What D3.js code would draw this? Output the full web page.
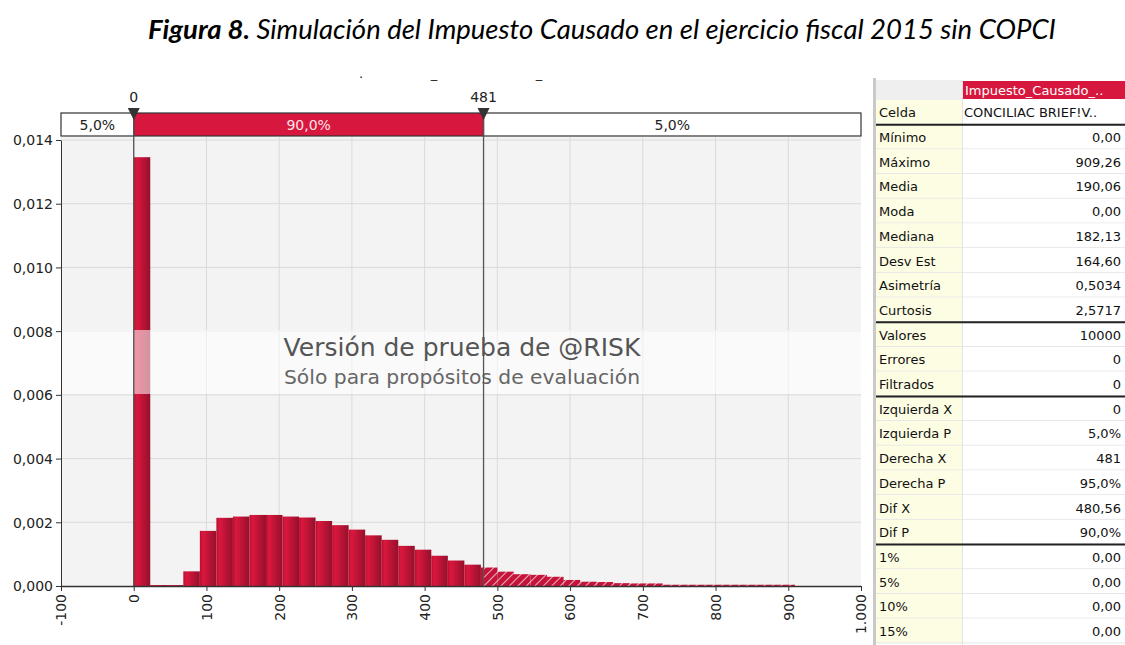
<!DOCTYPE html>
<html>
<head>
<meta charset="utf-8">
<script src="https://cdnjs.cloudflare.com/ajax/libs/d3/7.8.5/d3.min.js"></script>
<style>
  body { margin: 0; background: #ffffff; }
  text { font-family: "DejaVu Sans", Tahoma, sans-serif; }
</style>
</head>
<body>
<script>
// data
var xMin = 0, xMax = 909.26, binCount = 40;
var densities = [0.01346, 0.00003, 0.00003, 0.00046, 0.00173, 0.00214, 0.00218, 0.00223, 0.00223, 0.00218,
                 0.00215, 0.00204, 0.00191, 0.00177, 0.00159, 0.00145, 0.00126, 0.00114, 0.00095, 0.00080,
                 0.00067, 0.00058, 0.00045, 0.00037, 0.00035, 0.00029, 0.00019, 0.000135, 0.000125, 0.00009,
                 0.00008, 0.00008, 0.00004, 0.00004, 0.00004, 0.00004, 0.00004, 0.00004, 0.00004, 0.00004];
var leftX = 0, rightX = 481;
var pctLabels = ["5,0%", "90,0%", "5,0%"];
var xTicks = [-100, 0, 100, 200, 300, 400, 500, 600, 700, 800, 900, 1000];
var yTicks = [0, 0.002, 0.004, 0.006, 0.008, 0.010, 0.012, 0.014];

var statLabels = ["Celda", "Mínimo", "Máximo", "Media", "Moda", "Mediana", "Desv Est", "Asimetría", "Curtosis",
                  "Valores", "Errores", "Filtrados", "Izquierda X", "Izquierda P", "Derecha X", "Derecha P",
                  "Dif X", "Dif P", "1%", "5%", "10%", "15%"];
var statValues = ["CONCILIAC BRIEF!V..", "0,00", "909,26", "190,06", "0,00", "182,13", "164,60", "0,5034", "2,5717",
                  "10000", "0", "0", "0", "5,0%", "481", "95,0%", "480,56", "90,0%", "0,00", "0,00", "0,00", "0,00"];
var sepAfter = [0, 8, 11, 17];
var seriesName = "Impuesto_Causado_..";

var crimson = "#d7173d";
var width = 1125, height = 645;

var locale = d3.formatLocale({decimal: ",", thousands: ".", grouping: [3], currency: ["$", ""], minus: "-"});

var svg = d3.select("body").append("svg")
    .attr("width", width)
    .attr("height", height);

// title
var title = svg.append("text")
    .attr("x", 602).attr("y", 39)
    .attr("text-anchor", "middle")
    .style("font-family", "Lato, 'Open Sans', sans-serif")
    .style("font-style", "italic")
    .style("font-size", "27.5px")
    .attr("fill", "#000");
title.append("tspan").style("font-weight", "bold").text("Figura 8.");
title.append("tspan").text(" Simulación del Impuesto Causado en el ejercicio fiscal 2015 sin COPCI");

var x = d3.scaleLinear().domain([-100, 1000]).range([61, 861]);
var y = d3.scaleLinear().domain([0, 0.014]).range([586, 140]);

var defs = svg.append("defs");
var grad = defs.append("linearGradient").attr("id", "barGrad");
grad.append("stop").attr("offset", "0%").attr("stop-color", "#b5102f");
grad.append("stop").attr("offset", "18%").attr("stop-color", "#dc173e");
grad.append("stop").attr("offset", "100%").attr("stop-color", "#95102b");

var hatch = defs.append("pattern")
    .attr("id", "hatch")
    .attr("patternUnits", "userSpaceOnUse")
    .attr("width", 6).attr("height", 6)
    .attr("patternTransform", "rotate(45)");
hatch.append("rect").attr("width", 6).attr("height", 6).attr("fill", "#c4143a");
hatch.append("line").attr("x1", 0).attr("y1", 0).attr("x2", 0).attr("y2", 6)
    .attr("stroke", "#ffffff").attr("stroke-width", 1.6).attr("stroke-opacity", 0.85);

defs.append("clipPath").attr("id", "clipIn").append("rect")
    .attr("x", x(-100)).attr("y", 0).attr("width", x(rightX) - x(-100)).attr("height", height);
defs.append("clipPath").attr("id", "clipOut").append("rect")
    .attr("x", x(rightX)).attr("y", 0).attr("width", x(1000) - x(rightX)).attr("height", height);

// plot background
svg.append("rect")
    .attr("x", x(-100)).attr("y", 137)
    .attr("width", x(1000) - x(-100)).attr("height", y(0) - 137)
    .attr("fill", "#f3f3f3");

// grid
svg.append("g").selectAll("line").data(xTicks.slice(1, -1)).enter().append("line")
    .attr("x1", d => x(d)).attr("x2", d => x(d))
    .attr("y1", 137).attr("y2", y(0))
    .attr("stroke", "#dadada");
svg.append("g").selectAll("line").data(yTicks.slice(1)).enter().append("line")
    .attr("x1", x(-100)).attr("x2", x(1000))
    .attr("y1", d => y(d)).attr("y2", d => y(d))
    .attr("stroke", "#dadada");

// bars
var binW = (xMax - xMin) / binCount;
var bins = densities.map((d, i) => ({x0: xMin + i * binW, x1: xMin + (i + 1) * binW, v: d}));

svg.append("g").attr("clip-path", "url(#clipIn)")
    .selectAll("rect").data(bins).enter().append("rect")
    .attr("x", d => x(d.x0)).attr("width", d => x(d.x1) - x(d.x0))
    .attr("y", d => y(d.v)).attr("height", d => y(0) - y(d.v))
    .attr("fill", "url(#barGrad)");

svg.append("g").attr("clip-path", "url(#clipOut)")
    .selectAll("rect").data(bins).enter().append("rect")
    .attr("x", d => x(d.x0)).attr("width", d => x(d.x1) - x(d.x0))
    .attr("y", d => y(d.v)).attr("height", d => y(0) - y(d.v))
    .attr("fill", "url(#hatch)");

// watermark band
svg.append("rect")
    .attr("x", x(-100)).attr("y", 330)
    .attr("width", x(1000) - x(-100)).attr("height", 64)
    .attr("fill", "#ffffff").attr("fill-opacity", 0.55);
svg.append("text")
    .attr("x", 462).attr("y", 356)
    .attr("text-anchor", "middle")
    .style("font-size", "25px")
    .attr("fill", "#555")
    .text("Versión de prueba de @RISK");
svg.append("text")
    .attr("x", 462).attr("y", 384)
    .attr("text-anchor", "middle")
    .style("font-size", "20.3px")
    .attr("fill", "#666")
    .text("Sólo para propósitos de evaluación");

// axes
var yAxis = d3.axisLeft(y).tickValues(yTicks).tickFormat(locale.format(".3f")).tickSize(5).tickSizeOuter(0);
var gy = svg.append("g").attr("transform", "translate(" + x(-100) + ",0)").call(yAxis);
gy.selectAll("text").style("font-size", "14px").attr("fill", "#222").attr("dy", "0.35em");
gy.selectAll("line, path").attr("stroke", "#333");

var xAxis = d3.axisBottom(x).tickValues(xTicks).tickFormat(locale.format(",.0f")).tickSize(5).tickSizeOuter(0);
var gx = svg.append("g").attr("transform", "translate(0," + y(0) + ")").call(xAxis);
gx.select(".domain").attr("stroke", "#333").attr("stroke-width", 1.5);
gx.selectAll("line").attr("stroke", "#333");
gx.selectAll("text")
    .style("font-size", "14px").attr("fill", "#222")
    .attr("text-anchor", "end")
    .attr("transform", "rotate(-90)")
    .attr("x", -8).attr("y", 0).attr("dy", "0.35em");

// percentage bar on top
var segs = [[-100, leftX], [leftX, rightX], [rightX, 1000]];
var pg = svg.append("g");
pg.selectAll("rect").data(segs).enter().append("rect")
    .attr("x", d => x(d[0])).attr("width", d => x(d[1]) - x(d[0]))
    .attr("y", 113).attr("height", 23)
    .attr("fill", (d, i) => i === 1 ? crimson : "#ffffff")
    .attr("stroke", "#333").attr("stroke-width", 1.2);
pg.selectAll("text").data(segs).enter().append("text")
    .attr("x", d => (x(d[0]) + x(d[1])) / 2).attr("y", 129.5)
    .attr("text-anchor", "middle")
    .style("font-size", "14px")
    .attr("fill", (d, i) => i === 1 ? "#fbe3e8" : "#222")
    .text((d, i) => pctLabels[i]);

// markers
var markers = svg.append("g").selectAll("g").data([leftX, rightX]).enter().append("g");
markers.append("line")
    .attr("x1", d => x(d)).attr("x2", d => x(d))
    .attr("y1", 112).attr("y2", y(0))
    .attr("stroke", "#555").attr("stroke-width", 1.3);
markers.append("path")
    .attr("d", d => "M" + (x(d) - 6) + ",108L" + (x(d) + 6) + ",108L" + x(d) + ",120Z")
    .attr("fill", "#333");
markers.append("text")
    .attr("x", d => x(d)).attr("y", 102)
    .attr("text-anchor", "middle")
    .style("font-size", "14px").attr("fill", "#222")
    .text(d => d);

// remains of a cropped caption above the chart
svg.append("g").selectAll("text").data([[361, "."], [434, "_"], [539, "_"]]).enter().append("text")
    .attr("x", d => d[0]).attr("y", 78).attr("text-anchor", "middle")
    .style("font-size", "13px").attr("fill", "#222")
    .text(d => d[1]);

// statistics table
var tx0 = 876, tx1 = 962, tx2 = 1125, rowH = 24.7, top0 = 100;
var tg = svg.append("g");
tg.append("rect").attr("x", 873).attr("y", 78).attr("width", 3).attr("height", height - 78).attr("fill", "#c9c9c9");
tg.append("rect").attr("x", tx0).attr("y", 80).attr("width", tx1 - tx0).attr("height", 20).attr("fill", "#efefef");
tg.append("rect").attr("x", tx1 + 1).attr("y", 81).attr("width", tx2 - tx1 - 1).attr("height", 18).attr("fill", crimson);
tg.append("text").attr("x", tx1 + 3).attr("y", 95)
    .style("font-size", "13px").attr("fill", "#fff").text(seriesName);

var rows = tg.selectAll("g.row").data(statLabels).enter().append("g").attr("class", "row")
    .attr("transform", (d, i) => "translate(0," + (top0 + i * rowH) + ")");
rows.append("rect").attr("x", tx0).attr("width", tx1 - tx0).attr("height", rowH).attr("fill", "#fdfde4");
rows.append("rect").attr("x", tx1 + 1).attr("width", tx2 - tx1 - 1).attr("height", rowH).attr("fill", "#ffffff");
rows.append("line").attr("x1", tx0).attr("x2", tx2).attr("y1", rowH - 0.5).attr("y2", rowH - 0.5)
    .attr("stroke", "#e6e6e6");
rows.append("text").attr("x", tx0 + 3).attr("y", rowH / 2 + 5)
    .style("font-size", "13px").attr("fill", "#111").text(d => d);
rows.append("text")
    .attr("x", (d, i) => i === 0 ? tx1 + 2 : tx2 - 4)
    .attr("text-anchor", (d, i) => i === 0 ? "start" : "end")
    .attr("y", rowH / 2 + 5)
    .style("font-size", "13px").attr("fill", "#111")
    .text((d, i) => statValues[i]);
tg.append("line").attr("x1", tx1 + 0.5).attr("x2", tx1 + 0.5).attr("y1", 80).attr("y2", height)
    .attr("stroke", "#e2e2e2");
tg.selectAll("line.sep").data(sepAfter).enter().append("line").attr("class", "sep")
    .attr("x1", tx0).attr("x2", tx2)
    .attr("y1", d => top0 + (d + 1) * rowH).attr("y2", d => top0 + (d + 1) * rowH)
    .attr("stroke", "#222").attr("stroke-width", 2);
</script>
</body>
</html>
